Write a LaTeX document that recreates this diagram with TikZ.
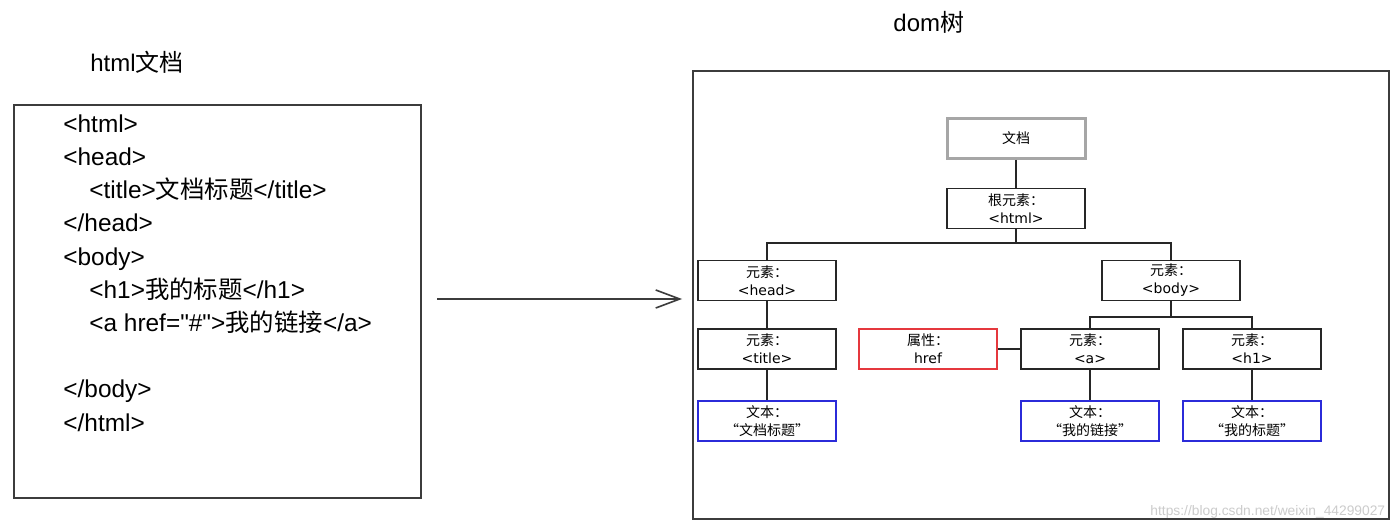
\documentclass[tikz,border=0pt]{standalone}
\usepackage{fontspec}
\setmainfont{Liberation Sans}
\newfontfamily\cjk{Noto Sans CJK SC}
\newfontfamily\dvs{DejaVu Sans}
\usetikzlibrary{arrows.meta}
\definecolor{redb}{HTML}{E5383D}
\definecolor{blueb}{HTML}{2B2BD9}
\definecolor{grayb}{HTML}{A6A6A6}
\definecolor{framec}{HTML}{3C3C3C}
\begin{document}
\begin{tikzpicture}[x=0.5pt,y=-0.5pt,
  code/.style={anchor=base west,inner sep=0pt,font=\fontsize{12.2}{14}\selectfont},
  ttl/.style={anchor=base west,inner sep=0pt,font=\fontsize{12}{14}\selectfont},
  tbox/.style={draw=black!85,line width=0.9pt,minimum width=69pt,minimum height=20pt,inner sep=0pt,align=center,font=\fontsize{7}{9}\selectfont},
  redbox/.style={tbox,draw=redb},
  bluebox/.style={tbox,draw=blueb},
  docbox/.style={tbox,draw=grayb,line width=1.5pt},
  frame/.style={draw=framec,line width=0.8pt,inner sep=0pt,anchor=north west},
  link/.style={draw=black!85,line width=0.8pt}
]
\useasboundingbox[fill=white] (0,0) rectangle (1400,528);

% titles
\node[ttl] (lt) at (90,72) {html{\cjk 文档}};
\node[ttl] (rt) at (893,32) {dom{\cjk 树}};

% left frame and code
\node[frame,minimum width=203.5pt,minimum height=196.5pt] (html) at (13,104) {};
\node[code] (c1) at (63,133) {<html>};
\node[code] (c2) at (63,166) {<head>};
\node[code] (c3) at (89,199) {<title>{\cjk 文档标题}</title>};
\node[code] (c4) at (63,232) {</head>};
\node[code] (c5) at (63,266) {<body>};
\node[code] (c6) at (89,299) {<h1>{\cjk 我的标题}</h1>};
\node[code] (c7) at (89,332) {<a href=\textquotedbl\#\textquotedbl>{\cjk 我的链接}</a>};
\node[code] (c8) at (63,398) {</body>};
\node[code] (c9) at (63,431) {</html>};

% arrow
\coordinate (arrS) at (437,299);
\coordinate (arrE) at (682,299);
\draw[draw=framec,line width=0.9pt,-{Straight Barb[length=12pt,width=9pt,line width=0.8pt]}] (arrS) -- (arrE);

% watermark
\node[anchor=base west,inner sep=0pt,text=black!20,font=\fontsize{6.9}{9}\selectfont] (wm) at (1150,515) {https://blog.csdn.net/weixin\_44299027};

% right frame
\node[frame,line width=1pt,minimum width=348pt,minimum height=224pt] (dom) at (692,70) {};

% tree nodes
\node[docbox] (doc) at (1016,138.5) {\cjk 文档};
\node[tbox] (root) at (1016,208.5) {{\cjk 根元素：}\\{\dvs <html>}};
\node[tbox] (head) at (767,280.5) {{\cjk 元素：}\\{\dvs <head>}};
\node[tbox] (body) at (1171,280.5) {{\cjk 元素：}\\{\dvs <body>}};
\node[tbox] (title) at (767,349) {{\cjk 元素：}\\{\dvs <title>}};
\node[redbox] (href) at (928,349) {{\cjk 属性：}\\{\dvs href}};
\node[tbox] (a) at (1090,349) {{\cjk 元素：}\\{\dvs <a>}};
\node[tbox] (h1) at (1252,349) {{\cjk 元素：}\\{\dvs <h1>}};
\node[bluebox] (tx1) at (767,421) {{\cjk 文本：}\\{\cjk “文档标题”}};
\node[bluebox] (tx2) at (1090,421) {{\cjk 文本：}\\{\cjk “我的链接”}};
\node[bluebox] (tx3) at (1252,421) {{\cjk 文本：}\\{\cjk “我的标题”}};

% connectors
\coordinate (j1) at (1016,243);
\coordinate (j2) at (1171,317);
\draw[link] (doc) -- (root);
\draw[link] (root.south) -- (j1);
\draw[link] (head.north) |- (j1) -| (body.north);
\draw[link] (body.south) -- (j2);
\draw[link] (a.north) |- (j2) -| (h1.north);
\draw[link] (head) -- (title);
\draw[link] (title) -- (tx1);
\draw[link] (a) -- (tx2);
\draw[link] (h1) -- (tx3);
\draw[link] (href) -- (a);
\end{tikzpicture}
\end{document}
